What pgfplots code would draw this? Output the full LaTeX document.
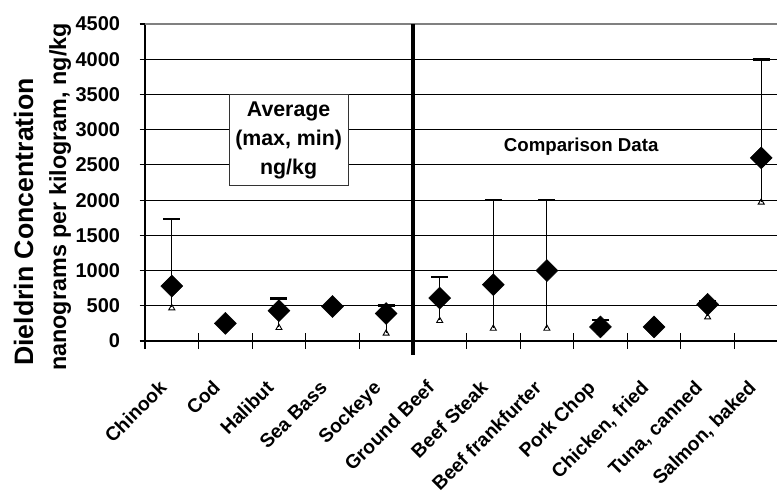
\documentclass[border=0pt]{standalone}
\usepackage{pgfplots}
\pgfplotsset{compat=1.18}
\usepackage{pgfplotstable}
\usepackage{fontspec}
\setmainfont{Liberation Sans}

\pgfplotstableread{
x avg max min
0 780 1730 480
1 250 250 250
2 430 600 200
3 490 490 490
4 390 500 120
5 610 910 300
6 800 2000 190
7 1000 2000 190
8 200 300 130
9 200 200 200
10 520 560 350
11 2600 4000 1980
}\data

\begin{document}
\begin{tikzpicture}[x=1pt,y=1pt]
\path[use as bounding box] (0,0) rectangle (582.75,369.75);
\begin{axis}[
 at={(108.75pt,114pt)}, anchor=south west,
 width=482.25pt, height=237.75pt, scale only axis,
 clip=false,
 xmin=-0.5, xmax=11.5, ymin=0, ymax=4500,
 axis x line=bottom, axis y line=left,
 axis line style={-, line width=0.9pt, black},
 ytick={0,500,...,4500},
 ymajorgrids, major grid style={black, line width=0.7pt},
 xtick={0,...,11},
 xticklabels={Chinook, Cod, Halibut, Sea Bass, Sockeye, Ground Beef, Beef Steak, Beef frankfurter, Pork Chop, {Chicken, fried}, {Tuna, canned}, {Salmon, baked}},
 minor xtick={-0.5,0.5,...,10.5},
 major x tick style={draw=none},
 minor x tick style={black, line width=0.8pt},
 major y tick style={black, line width=0.8pt},
 tick align=center,
 major tick length=8pt, minor tick length=12pt,
 /pgf/number format/assume math mode=true,
 /pgf/number format/1000 sep={},
 yticklabel style={font=\fontsize{15}{18}\selectfont\bfseries, anchor=east, inner sep=0pt, xshift=-14.5pt},
 xticklabel style={font=\fontsize{14.5}{17}\selectfont\bfseries, inner sep=0pt, xshift=-3pt, yshift=-32pt, rotate=45, anchor=base east},
]
\addplot[only marks, mark=none, forget plot,
  error bars/.cd, y dir=plus, y explicit,
  error bar style={black, line width=0.7pt},
  error mark=-, error mark options={black, rotate=90, line width=2pt, mark size=6.4pt}]
  table[x=x, y=avg, y error plus expr=\thisrow{max}-\thisrow{avg}] {\data};
\addplot[only marks, mark=none, forget plot,
  error bars/.cd, y dir=minus, y explicit,
  error bar style={black, line width=0.7pt},
  error mark=triangle, error mark options={black, rotate=90, fill=white, line width=0.7pt, mark size=2.6pt}]
  table[x=x, y=avg, y error minus expr=\thisrow{avg}-\thisrow{min}] {\data};
\addplot[only marks, mark=square*, mark size=5.8pt,
  mark options={rotate=45, fill=black, draw=black}]
  table[x=x, y=avg] {\data};
\draw[gray, line width=1.3pt] (axis cs:-0.5,4500) -- (axis cs:11.5,4500);
\draw[line width=3pt] (axis cs:4.5,4500) -- (axis cs:4.5,-200);
\node[draw=black!80, fill=white, line width=0.7pt, minimum width=89.25pt,
  minimum height=68.25pt, align=center, font=\fontsize{16}{22}\selectfont\bfseries]
  at (axis cs:2.18,2847) {Average\\(max, min)\\ng/kg};
\node[font=\fontsize{14}{16}\selectfont\bfseries] at (axis cs:7.64,2755) {Comparison Data};
\end{axis}
\node[rotate=90, anchor=base east, inner sep=0pt, font=\fontsize{20}{24}\selectfont\bfseries] at (24.75, 311.25) {Dieldrin Concentration};
\node[rotate=90, anchor=base east, inner sep=0pt, font=\fontsize{17.5}{21}\selectfont\bfseries] at (49.5, 352.5) {nanograms per kilogram, ng/kg};
\end{tikzpicture}
\end{document}
